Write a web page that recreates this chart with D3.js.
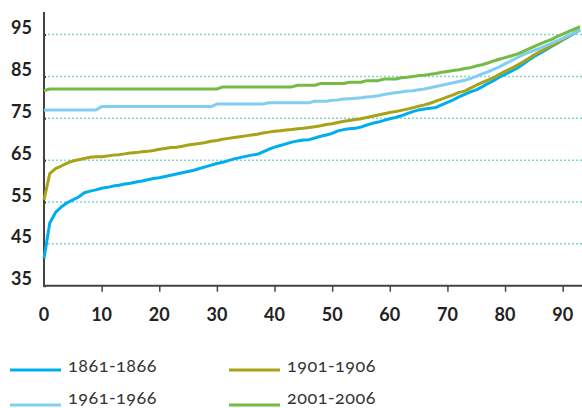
<!DOCTYPE html>
<html>
<head>
<meta charset="utf-8">
<script src="https://cdn.jsdelivr.net/npm/d3@7"></script>
<style>
  html, body { margin: 0; padding: 0; background: #fff; }
  svg { display: block; }
  .tick-label { font-family: Lato, "Open Sans", sans-serif; font-weight: 700; font-size: 18px; fill: #222; }
  .legend-label { font-family: Lato, "Open Sans", sans-serif; font-size: 18px; letter-spacing: 0.5px; fill: #333; font-variant-numeric: oldstyle-nums; }
</style>
</head>
<body>
<svg id="chart" width="582" height="408"></svg>
<script>
// ---- data ----
const ages = d3.range(0, 94);
const yTicks = [35, 45, 55, 65, 75, 85, 95];
const xTicks = [0, 10, 20, 30, 40, 50, 60, 70, 80, 90];
const seriesNames = ["1861-1866", "1901-1906", "1961-1966", "2001-2006"];
const seriesColors = ["#00aeef", "#a8a316", "#80cff3", "#74bb44"];

const v1861 = [41.5,50.0,52.5,53.8,54.8,55.5,56.2,57.2,57.6,57.9,
  58.3,58.5,58.8,59.0,59.3,59.5,59.8,60.0,60.3,60.6,
  60.8,61.1,61.4,61.7,62.0,62.3,62.6,63.0,63.4,63.8,
  64.2,64.5,64.9,65.3,65.6,65.9,66.2,66.4,67.0,67.6,
  68.1,68.5,68.9,69.3,69.6,69.8,69.9,70.3,70.7,71.0,
  71.4,72.0,72.3,72.5,72.6,72.9,73.4,73.8,74.1,74.5,
  74.9,75.2,75.6,76.1,76.6,77.0,77.2,77.4,77.6,78.2,
  78.8,79.4,80.1,80.7,81.3,81.8,82.5,83.3,84.0,84.8,
  85.5,86.2,86.9,87.8,88.8,89.7,90.5,91.3,92.1,92.9,
  93.7,94.5,95.3,96.1];
const v1901 = [55.5,61.8,63.0,63.6,64.3,64.8,65.1,65.4,65.7,65.8,
  65.8,66.0,66.2,66.3,66.5,66.7,66.8,67.0,67.1,67.3,
  67.6,67.8,68.0,68.1,68.3,68.6,68.8,69.0,69.2,69.5,
  69.7,70.0,70.2,70.4,70.6,70.8,71.0,71.2,71.5,71.7,
  71.9,72.0,72.2,72.3,72.5,72.6,72.8,73.0,73.2,73.5,
  73.7,74.0,74.3,74.5,74.7,74.9,75.2,75.5,75.8,76.1,
  76.4,76.6,76.9,77.2,77.5,77.9,78.2,78.6,79.1,79.6,
  80.1,80.6,81.2,81.5,82.2,82.9,83.5,84.1,84.7,85.5,
  86.2,86.9,87.6,88.4,89.2,90.1,90.9,91.6,92.3,93.0,
  93.8,94.6,95.5,96.3];
const v1961 = [76.9,77.0,77.0,77.0,77.0,77.0,77.0,77.0,77.0,77.0,
  77.8,77.8,77.8,77.8,77.8,77.8,77.8,77.8,77.8,77.8,
  77.8,77.8,77.8,77.8,77.8,77.8,77.8,77.8,77.8,77.8,
  78.4,78.4,78.4,78.4,78.4,78.4,78.4,78.4,78.4,78.7,
  78.7,78.7,78.7,78.7,78.7,78.7,78.7,79.1,79.1,79.1,
  79.3,79.4,79.6,79.7,79.8,79.9,80.1,80.2,80.4,80.7,
  80.9,81.1,81.3,81.5,81.6,81.8,82.0,82.3,82.6,82.9,
  83.2,83.5,83.8,84.1,84.5,85.0,85.6,86.1,86.7,87.3,
  88.0,88.7,89.4,90.1,90.7,91.2,91.7,92.3,92.9,93.5,
  94.1,94.8,95.4,96.1];
const v2001 = [81.6,82.0,82.0,82.0,82.0,82.0,82.0,82.0,82.0,82.0,
  82.0,82.0,82.0,82.0,82.0,82.0,82.0,82.0,82.0,82.0,
  82.0,82.0,82.0,82.0,82.0,82.0,82.0,82.0,82.0,82.0,
  82.0,82.5,82.5,82.5,82.5,82.5,82.5,82.5,82.5,82.5,
  82.5,82.5,82.5,82.5,82.9,82.9,82.9,82.9,83.3,83.3,
  83.3,83.3,83.3,83.6,83.6,83.6,84.0,84.0,84.0,84.4,
  84.4,84.4,84.7,84.8,85.0,85.2,85.3,85.5,85.7,86.0,
  86.2,86.4,86.6,86.9,87.1,87.5,87.8,88.2,88.7,89.1,
  89.5,89.9,90.3,90.9,91.5,92.1,92.7,93.3,93.8,94.5,
  95.1,95.7,96.3,96.9];
const seriesValues = [v1861, v1901, v1961, v2001];

// ---- layout ----
const svg = d3.select("#chart");
const plotL = 44, plotR = 582, plotT = 12, plotB = 285.7;
const x = d3.scaleLinear().domain([0, 93.35]).range([plotL, plotR]);
const y = d3.scaleLinear().domain([35, 95]).range([plotB, 34.6]);

// gridlines
svg.append("g").selectAll("line")
  .data(yTicks.filter(d => d > 35))
  .join("line")
  .attr("x1", plotL).attr("x2", plotR)
  .attr("y1", d => y(d)).attr("y2", d => y(d))
  .attr("stroke", "#86d3cb").attr("stroke-width", 1.5)
  .attr("stroke-dasharray", "2,2");

// y axis
const yAxis = d3.axisLeft(y).tickValues(yTicks).tickSize(-2).tickFormat("");
const gy = svg.append("g").attr("transform", `translate(${plotL},0)`).call(yAxis);
gy.select(".domain").remove();
gy.selectAll(".tick line").attr("stroke", "#333").attr("stroke-width", 2);
svg.append("line").attr("x1", plotL).attr("x2", plotL).attr("y1", plotT).attr("y2", plotB + 1)
  .attr("stroke", "#444").attr("stroke-width", 2);
svg.append("g").selectAll("text").data(yTicks).join("text")
  .attr("class", "tick-label")
  .attr("x", 32).attr("y", d => y(d) - 0.5)
  .attr("text-anchor", "end")
  .text(d => d);

// x axis
const xAxis = d3.axisBottom(x).tickValues(xTicks.filter(d => d > 0)).tickSize(6).tickFormat("");
const gx = svg.append("g").attr("transform", `translate(0,${plotB})`).call(xAxis);
gx.select(".domain").remove();
gx.selectAll(".tick line").attr("stroke", "#444").attr("stroke-width", 1.5);
svg.append("line").attr("x1", plotL - 1).attr("x2", plotR).attr("y1", plotB).attr("y2", plotB)
  .attr("stroke", "#444").attr("stroke-width", 2);
svg.append("g").selectAll("text").data(xTicks).join("text")
  .attr("class", "tick-label")
  .attr("x", d => x(d)).attr("y", 321)
  .attr("text-anchor", "middle")
  .text(d => d);

// lines
const line = d3.line().x((d, i) => x(ages[i])).y(d => y(d));
svg.append("g").selectAll("path")
  .data(seriesValues)
  .join("path")
  .attr("d", d => line(d))
  .attr("fill", "none")
  .attr("stroke", (d, i) => seriesColors[i])
  .attr("stroke-width", 3)
  .attr("stroke-linejoin", "round");

// legend
const legendPos = [[10, 370], [229, 370], [10, 405], [229, 405]];
const lg = svg.append("g");
seriesNames.forEach((name, i) => {
  const [lx, ly] = legendPos[i];
  lg.append("line").attr("x1", lx).attr("x2", lx + 51).attr("y1", ly).attr("y2", ly)
    .attr("stroke", seriesColors[i]).attr("stroke-width", 3);
  lg.append("text").attr("class", "legend-label")
    .attr("x", lx + 58).attr("y", i < 2 ? ly + 2 : ly - 1)
    .text(name);
});
</script>
</body>
</html>
